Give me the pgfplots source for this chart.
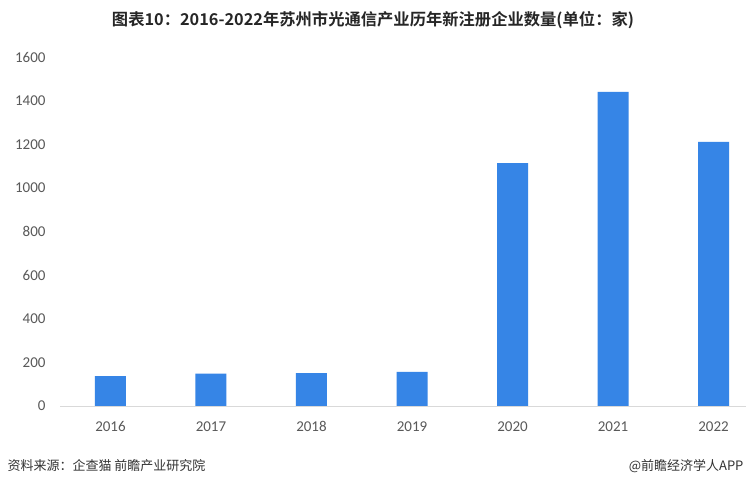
\documentclass[border=0pt]{standalone}
\usepackage{pgfplots}
\pgfplotsset{compat=1.18}
\usepackage{fontspec}
\setmainfont{Carlito}
\newfontfamily\cjk{Noto Sans CJK SC}
\newfontfamily\cjkb{Noto Sans CJK SC Bold}
\definecolor{barblue}{HTML}{3685E6}
\definecolor{ticktxt}{HTML}{595959}
\definecolor{axline}{HTML}{D9D9D9}
\begin{document}
\begin{tikzpicture}[x=1pt,y=1pt]
\path[use as bounding box, fill=white] (0,0) rectangle (746,485);
\begin{axis}[
  at={(60pt,79pt)}, anchor=south west,
  scale only axis, width=685.7pt, height=349pt,
  xmin=-0.502, xmax=6.32, ymin=0, ymax=1600,
  axis line style={draw=none},
  axis x line*=bottom, axis y line*=left,
  ytick={0,200,...,1600},
  xtick={0,...,6},
  xticklabels={2016,2017,2018,2019,2020,2021,2022},
  major tick length=0pt,
  tick label style={font=\fontsize{15}{17}\selectfont, text=ticktxt},
  /pgf/number format/assume math mode=true,
  /pgf/number format/1000 sep={},
  yticklabel style={xshift=-11pt},
  xticklabel style={yshift=-12pt},
  clip=false,
]
\addplot[ybar, bar width=31pt, fill=barblue, draw=none] coordinates {
 (0,137) (1,148) (2,151) (3,156) (4,1113) (5,1440) (6,1211)
};
\draw[axline, line width=0.9pt] (axis cs:-0.502,0) -- (axis cs:6.32,0);
\end{axis}
\node[font=\cjkb\fontsize{16.3}{19}\selectfont, text=black!85] at (373,465) {图表10：2016-2022年苏州市光通信产业历年新注册企业数量(单位：家)};
\node[anchor=west, font=\cjk\fontsize{13}{15}\selectfont, text=black!80] at (4,19) {资料来源：企查猫 前瞻产业研究院};
\node[anchor=east, font=\cjk\fontsize{13}{15}\selectfont, text=black!80] at (747,19) {@前瞻经济学人APP};
\end{tikzpicture}
\end{document}
